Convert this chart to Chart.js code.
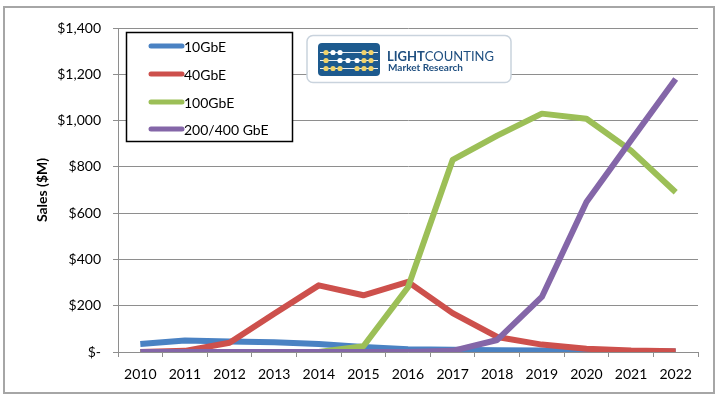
<!DOCTYPE html>
<html>
<head>
<meta charset="utf-8">
<script src="https://cdn.jsdelivr.net/npm/chart.js@4"></script>
<style>
html, body { margin: 0; padding: 0; background: #fff; }
</style>
</head>
<body>
<canvas id="chartSales" width="720" height="397"></canvas>
<script>
var years = ["2010", "2011", "2012", "2013", "2014", "2015", "2016", "2017", "2018", "2019", "2020", "2021", "2022"];
var seriesNames = ["10GbE", "40GbE", "100GbE", "200/400 GbE"];
var sales10G = [35, 50, 45, 42, 35, 22, 12, 10, 8, 6, 4, 3, 2];
var sales40G = [0, 5, 40, 165, 288, 245, 303, 168, 65, 32, 14, 6, 3];
var sales100G = [0, 0, 0, 0, 0, 25, 280, 830, 935, 1030, 1008, 870, 690];
var sales400G = [0, 0, 0, 0, 0, 0, 0, 5, 52, 238, 648, 915, 1180];
var yTicks = [0, 200, 400, 600, 800, 1000, 1200, 1400];

var FONT = "Lato, 'Open Sans', sans-serif";
var lineColors = ["#4a82c3", "#cd504c", "#9cbf57", "#8466a8"];

function makeSet(i, values) {
    return {
        label: seriesNames[i],
        data: values,
        borderColor: lineColors[i],
        backgroundColor: lineColors[i],
        borderWidth: 6,
        pointRadius: 0,
        tension: 0,
        borderJoinStyle: "round",
        borderCapStyle: "butt",
        order: 3 - i // later series on top, like the original
    };
}

// outer frame of the chart
var framePlugin = {
    id: "frame",
    beforeDraw: function (chart) {
        var ctx = chart.ctx;
        ctx.save();
        ctx.fillStyle = "#fff";
        ctx.fillRect(0, 0, chart.width, chart.height);
        ctx.strokeStyle = "#a6a6a6";
        ctx.lineWidth = 2;
        ctx.strokeRect(4, 7, 710, 386);
        ctx.restore();
    }
};

// boxed legend at the upper left of the plot
var legendBoxPlugin = {
    id: "legendBox",
    afterDraw: function (chart) {
        var ctx = chart.ctx;
        ctx.save();
        ctx.fillStyle = "#fff";
        ctx.fillRect(126, 32, 167, 110);
        ctx.strokeStyle = "#000";
        ctx.lineWidth = 1.5;
        ctx.strokeRect(126.5, 32.5, 166, 109);
        var rowY = [46, 74, 102, 129];
        chart.data.datasets.forEach(function (ds, i) {
            ctx.strokeStyle = ds.borderColor;
            ctx.lineWidth = 5;
            ctx.lineCap = "round";
            ctx.beginPath();
            ctx.moveTo(151, rowY[i]);
            ctx.lineTo(182, rowY[i]);
            ctx.stroke();
            ctx.fillStyle = "#000";
            ctx.font = "14px " + FONT;
            ctx.textBaseline = "middle";
            ctx.textAlign = "left";
            ctx.fillText(ds.label, 184, rowY[i] + 1);
        });
        ctx.restore();
    }
};

// LightCounting logo box
var logoPlugin = {
    id: "logo",
    afterDraw: function (chart) {
        var ctx = chart.ctx;
        ctx.save();
        ctx.beginPath();
        ctx.roundRect(307, 35.5, 204, 47, 6);
        ctx.fillStyle = "#fff";
        ctx.fill();
        ctx.strokeStyle = "#c9d3dd";
        ctx.lineWidth = 1.5;
        ctx.stroke();

        ctx.beginPath();
        ctx.roundRect(318, 43, 62, 33, 4);
        ctx.fillStyle = "#1d5a8e";
        ctx.fill();
        ctx.strokeStyle = "#e8eef4";
        ctx.lineWidth = 1;
        var rows = [52, 60, 68];
        rows.forEach(function (y) {
            ctx.beginPath();
            ctx.moveTo(320, y + 0.5);
            ctx.lineTo(378, y + 0.5);
            ctx.stroke();
        });
        var cols = [326, 333, 340, 348, 357, 364, 371];
        var pattern = ["YWW..YY", "Y.WWWYY", "YYY.YYY"];
        pattern.forEach(function (p, r) {
            for (var c = 0; c < p.length; c++) {
                if (p[c] === ".") continue;
                ctx.beginPath();
                ctx.arc(cols[c], rows[r] + 0.5, 2.6, 0, Math.PI * 2);
                ctx.fillStyle = p[c] === "Y" ? "#f0d36a" : "#ffffff";
                ctx.fill();
            }
        });

        ctx.fillStyle = "#1f4f80";
        ctx.textBaseline = "alphabetic";
        ctx.textAlign = "left";
        ctx.font = "bold 13px " + FONT;
        ctx.fillText("LIGHT", 387, 61);
        var w = ctx.measureText("LIGHT").width;
        ctx.font = "13px " + FONT;
        ctx.fillText("COUNTING", 387 + w, 61);
        ctx.font = "bold 10px " + FONT;
        ctx.fillText("Market Research", 388, 71);
        ctx.restore();
    }
};

var ctx = document.getElementById("chartSales");
var salesChart = new Chart(ctx, {
    type: "line",
    data: {
        labels: years,
        datasets: [
            makeSet(0, sales10G),
            makeSet(1, sales40G),
            makeSet(2, sales100G),
            makeSet(3, sales400G)
        ]
    },
    options: {
        responsive: false,
        animation: false,
        layout: { padding: { top: 28, right: 22, left: 0, bottom: 0 } },
        plugins: {
            legend: { display: false },
            tooltip: { enabled: false }
        },
        scales: {
            x: {
                offset: true,
                grid: { offset: true, drawOnChartArea: false, color: "#8e8e8e", tickLength: 5 },
                border: { color: "#8e8e8e" },
                ticks: {
                    color: "#000",
                    font: { family: FONT, size: 14 },
                    padding: 9,
                    maxRotation: 0,
                    autoSkip: false
                },
                afterFit: function (scale) { scale.height = 45; }
            },
            y: {
                min: 0,
                max: 1400,
                afterBuildTicks: function (scale) {
                    scale.ticks = yTicks.map(function (v) { return { value: v }; });
                },
                grid: { color: "#8e8e8e", lineWidth: 1, tickLength: 5 },
                border: { color: "#8e8e8e" },
                ticks: {
                    color: "#000",
                    font: { family: FONT, size: 14 },
                    padding: 12,
                    callback: function (v) {
                        return v === 0 ? "$-" : "$" + v.toLocaleString("en-US");
                    }
                },
                title: {
                    display: true,
                    text: "Sales ($M)",
                    color: "#000",
                    font: { family: FONT, size: 14, weight: "bold" },
                    padding: { top: 34, bottom: 0 }
                },
                afterFit: function (scale) { scale.width = 118; }
            }
        }
    },
    plugins: [framePlugin, legendBoxPlugin, logoPlugin]
});
</script>
</body>
</html>
